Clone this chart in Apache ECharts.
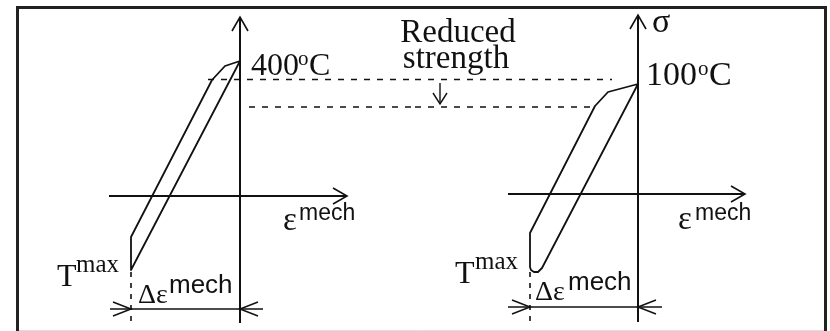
<!DOCTYPE html>
<html>
<head>
<meta charset="utf-8">
<script src="https://cdn.jsdelivr.net/npm/echarts@6/dist/echarts.min.js"></script>
<style>html,body{margin:0;padding:0;background:#fff;}#c{width:830px;height:331px;}</style>
</head>
<body>
<div id="c"></div>
<script>
// ---- Data (schematic units: mechanical strain ε vs stress σ, origin at axis crossing) ----
// Left panel: 400 °C hysteresis loop
const leftLoopEps = [0, -15, -28, -109, -109, 0];
const leftLoopSig = [135, 130, 116, -41, -74, 135];
// Right panel: 100 °C hysteresis loop
const rightLoopEps = [0, -30, -43, -108, -108, -107, -104, -100, -96, 0];
const rightLoopSig = [110, 102, 88, -39, -73, -76, -78, -78, -74, 110];
// Yield levels (dashed "reduced strength" lines)
const leftUpperYield = { sig: 116.5, from: -32, to: 175 };
const rightUpperYield = { sig: 114.5, from: -223, to: -26 };
const leftLowerYield = { sig: 89, from: 9, to: 175 };
const rightLowerYield = { sig: 87, from: -223, to: -43 };
// Strain range (Δε mech) per panel
const leftStrainRange = [-109, 0];
const rightStrainRange = [-108, 0];
// Texts
const tempLeft = ['400', 'o', 'C'];
const tempRight = ['100', 'o', 'C'];
const axisY = 'σ';
const axisXMain = 'ε', axisXSup = 'mech';
const tMain = 'T', tSup = 'max';
const dMain = 'Δε', dSup = 'mech';
const noteLines = ['Reduced', 'strength'];

const INK = '#111';
const SERIF = '"Liberation Serif", "Times New Roman", serif';
const SANS = '"Liberation Sans", Arial, sans-serif';

const zip = (a, b) => a.map((v, i) => [v, b[i]]);

function segSeries(gi, segs, width, dash) {
  return {
    type: 'custom', xAxisIndex: gi, yAxisIndex: gi, silent: true, clip: false,
    data: segs, encode: { x: [0, 2], y: [1, 3] },
    renderItem: (p, api) => {
      const a = api.coord([api.value(0), api.value(1)]);
      const b = api.coord([api.value(2), api.value(3)]);
      return { type: 'line', shape: { x1: a[0], y1: a[1], x2: b[0], y2: b[1] },
        style: { stroke: INK, lineWidth: width, lineDash: dash || null, fill: null } };
    }
  };
}
function headSeries(gi, heads, L, W, width) {
  return {
    type: 'custom', xAxisIndex: gi, yAxisIndex: gi, silent: true, clip: false,
    data: heads, encode: { x: 0, y: 1 },
    renderItem: (p, api) => {
      const t = api.coord([api.value(0), api.value(1)]);
      const dx = api.value(2), dy = -api.value(3);
      const nx = -dy, ny = dx;
      return { type: 'polyline', shape: { points: [
          [t[0] - L * dx + W * nx, t[1] - L * dy + W * ny], t,
          [t[0] - L * dx - W * nx, t[1] - L * dy - W * ny]] },
        style: { stroke: INK, lineWidth: width, fill: null } };
    }
  };
}
function txt(s, dx, base, size, fam, align) {
  return { s, dx, base, size, fam, align: align || 'left' };
}
function labelSeries(gi, items) {
  return {
    type: 'custom', xAxisIndex: gi, yAxisIndex: gi, silent: true, clip: false,
    data: [[0, 0]], encode: { x: 0, y: 1 },
    renderItem: (p, api) => {
      const o = api.coord([0, 0]);
      return { type: 'group', children: items.map(it => ({
        type: 'text', x: o[0] + it.dx, y: o[1] + it.base - 0.26 * it.size,
        style: { text: it.s, fill: INK, font: it.size + 'px ' + it.fam,
          align: it.align, verticalAlign: 'middle' } })) };
    }
  };
}
function loopSeries(gi, eps, sig) {
  return { type: 'line', xAxisIndex: gi, yAxisIndex: gi, data: zip(eps, sig),
    symbol: 'none', clip: false, silent: true,
    lineStyle: { color: INK, width: 1.8, join: 'round' } };
}

const hidden = { show: false };
const option = {
  animation: false,
  backgroundColor: '#fff',
  grid: [
    { left: 17, width: 398, top: 0, height: 331 },
    { left: 415, width: 415, top: 0, height: 331 }
  ],
  xAxis: [
    Object.assign({ type: 'value', gridIndex: 0, min: -223, max: 175 }, hidden),
    Object.assign({ type: 'value', gridIndex: 1, min: -223, max: 192 }, hidden)
  ],
  yAxis: [
    Object.assign({ type: 'value', gridIndex: 0, min: -135, max: 196 }, hidden),
    Object.assign({ type: 'value', gridIndex: 1, min: -137, max: 194 }, hidden)
  ],
  graphic: [
    { type: 'rect', shape: { x: 17.5, y: 7.5, width: 808, height: 340 },
      style: { fill: null, stroke: '#222', lineWidth: 3 }, silent: true },
    { type: 'line', shape: { x1: 19, y1: 330.5, x2: 824, y2: 330.5 },
      style: { stroke: '#ddd', lineWidth: 1 }, silent: true }
  ],
  series: [
    // axes
    segSeries(0, [[0, -127, 0, 179], [-131, 0, 107, 0]], 2),
    segSeries(1, [[0, -128, 0, 179], [-130, 0, 107, 0]], 2),
    headSeries(0, [[0, 179, 0, 1], [107, 0, 1, 0]], 14, 8, 1.6),
    headSeries(1, [[0, 179, 0, 1], [107, 0, 1, 0]], 14, 8, 1.6),
    // loops
    loopSeries(0, leftLoopEps, leftLoopSig),
    loopSeries(1, rightLoopEps, rightLoopSig),
    // yield dashed lines
    segSeries(0, [[leftUpperYield.from, leftUpperYield.sig, leftUpperYield.to, leftUpperYield.sig],
                  [leftLowerYield.from, leftLowerYield.sig, leftLowerYield.to, leftLowerYield.sig]], 1.6, [6, 7]),
    segSeries(1, [[rightUpperYield.from, rightUpperYield.sig, rightUpperYield.to, rightUpperYield.sig],
                  [rightLowerYield.from, rightLowerYield.sig, rightLowerYield.to, rightLowerYield.sig]], 1.6, [6, 7]),
    // reduced-strength arrow
    segSeries(1, [[-198, 111, -198, 90]], 1.4),
    headSeries(1, [[-198, 90, 0, -1]], 11, 7, 1.4),
    // strain range dimension lines
    segSeries(0, [[-130, -113, 23, -113]], 1.6),
    segSeries(1, [[-130, -113, 24, -113]], 1.6),
    headSeries(0, [[leftStrainRange[0], -113, 1, 0], [leftStrainRange[1], -113, -1, 0]], 18, 7, 1.5),
    headSeries(1, [[rightStrainRange[0], -113, 1, 0], [rightStrainRange[1], -113, -1, 0]], 18, 7, 1.5),
    // dotted extension lines
    segSeries(0, [[leftStrainRange[0], -76, leftStrainRange[0], -127]], 1.6, [5, 6]),
    segSeries(1, [[rightStrainRange[0], -78, rightStrainRange[0], -128]], 1.6, [5, 6]),
    // labels
    labelSeries(0, [
      txt(tempLeft[0], 11, -121, 32, SERIF), txt(tempLeft[1], 58, -131, 21, SERIF), txt(tempLeft[2], 69, -121, 32, SERIF),
      txt(axisXMain, 43, 34, 33, SERIF), txt(axisXSup, 59, 24, 23, SANS),
      txt(tMain, -183, 90, 32, SERIF), txt(tSup, -164, 76, 25, SERIF),
      txt(dMain, -102, 107, 28, SERIF), txt(dSup, -71, 97, 26, SANS)
    ]),
    labelSeries(1, [
      txt(axisY, 14, -162, 34, SERIF),
      txt(tempRight[0], 8, -109, 34, SERIF), txt(tempRight[1], 60, -119, 21, SERIF), txt(tempRight[2], 71, -109, 34, SERIF),
      txt(axisXMain, 40, 35, 33, SERIF), txt(axisXSup, 57, 26, 23, SANS),
      txt(tMain, -183, 89, 32, SERIF), txt(tSup, -163, 75, 25, SERIF),
      txt(dMain, -103, 106, 28, SERIF), txt(dSup, -70, 96, 26, SANS),
      txt(noteLines[0], -180, -152, 33, SERIF, 'center'), txt(noteLines[1], -182, -126, 33, SERIF, 'center')
    ])
  ]
};
const chart = echarts.init(document.getElementById('c'), null, { renderer: 'canvas' });
chart.setOption(option);
</script>
</body>
</html>
